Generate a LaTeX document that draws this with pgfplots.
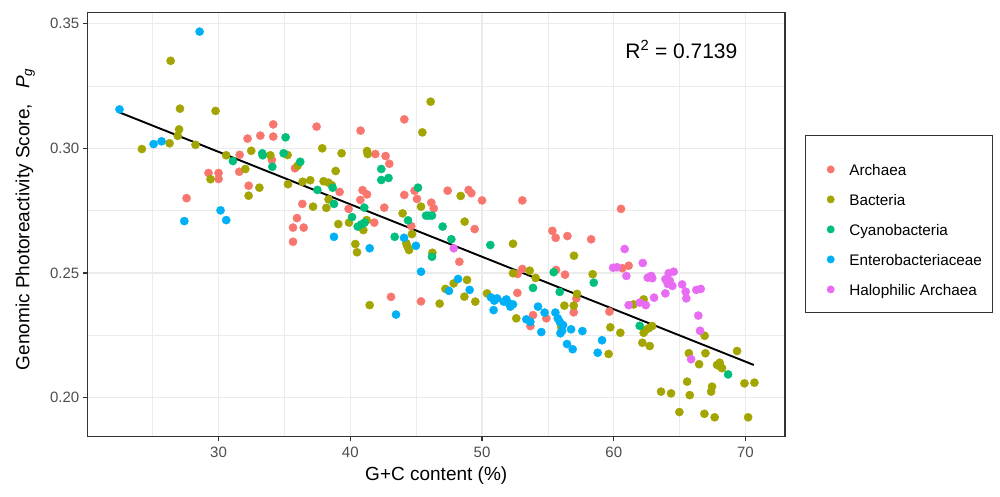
\documentclass[border=0pt]{standalone}
\usepackage{fontspec}
\setmainfont{Liberation Sans}
\usepackage{pgfplots}
\pgfplotsset{compat=1.18}
\usepackage{pgfplotstable}
\definecolor{arch}{HTML}{F8766D}
\definecolor{bact}{HTML}{A3A500}
\definecolor{cyano}{HTML}{00BF7D}
\definecolor{ent}{HTML}{00B0F6}
\definecolor{halo}{HTML}{E76BF3}
\definecolor{gridgray}{HTML}{EBEBEB}
\definecolor{frame}{HTML}{333333}
\definecolor{ticklab}{HTML}{4D4D4D}

\pgfplotstableread{
x y
34.15 0.3096
37.44 0.3087
32.20 0.3039
33.17 0.3051
34.15 0.3047
31.60 0.2974
34.05 0.2953
35.80 0.2920
29.24 0.2901
30.00 0.2901
30.00 0.2877
31.57 0.2906
32.28 0.2850
27.57 0.2800
36.36 0.2777
35.95 0.2720
35.65 0.2682
36.46 0.2682
44.10 0.3116
40.78 0.3071
41.90 0.2977
42.68 0.2969
42.96 0.2938
39.19 0.2825
40.93 0.2832
41.27 0.2815
40.76 0.2793
44.10 0.2813
44.88 0.2830
45.06 0.2797
46.15 0.2782
46.33 0.2759
47.39 0.2830
48.98 0.2833
49.19 0.2820
50.00 0.2791
39.87 0.2757
42.58 0.2762
41.82 0.2702
44.63 0.2688
49.44 0.2676
48.28 0.2545
53.06 0.2791
60.55 0.2757
55.34 0.2669
55.59 0.2641
56.48 0.2648
58.28 0.2635
53.06 0.2516
52.70 0.2496
55.62 0.2512
56.30 0.2493
60.65 0.2519
61.13 0.2529
52.68 0.2420
35.65 0.2625
43.09 0.2404
45.37 0.2386
57.16 0.2398
56.96 0.2342
53.87 0.2331
54.88 0.2318
53.67 0.2287
59.67 0.2345
}\archaea

\pgfplotstableread{
x y
26.36 0.3351
27.07 0.3159
29.77 0.3150
27.00 0.3076
26.90 0.3050
24.18 0.2997
26.28 0.3020
28.25 0.3014
30.58 0.2972
32.48 0.2990
33.93 0.2972
35.24 0.2973
36.00 0.2930
29.39 0.2876
32.03 0.2917
33.10 0.2842
32.28 0.2810
35.27 0.2856
36.38 0.2866
36.96 0.2872
37.17 0.2766
46.10 0.3187
45.47 0.3064
37.87 0.3000
39.34 0.2980
41.27 0.2989
41.32 0.2977
38.89 0.2909
37.97 0.2868
38.35 0.2862
38.60 0.2852
38.35 0.2795
45.37 0.2766
48.38 0.2809
38.18 0.2761
43.97 0.2739
41.24 0.2712
39.90 0.2702
39.09 0.2696
40.99 0.2672
48.68 0.2706
44.68 0.2656
44.25 0.2619
44.35 0.2605
44.46 0.2592
40.38 0.2616
40.51 0.2583
46.23 0.2581
48.86 0.2472
52.35 0.2617
56.98 0.2569
53.62 0.2509
52.35 0.2499
54.07 0.2480
58.40 0.2495
57.21 0.2416
62.27 0.2394
61.51 0.2374
66.90 0.2248
62.40 0.2271
62.65 0.2278
62.91 0.2287
62.27 0.2260
60.50 0.2260
41.47 0.2371
47.85 0.2458
47.22 0.2436
48.66 0.2405
49.49 0.2385
46.78 0.2377
50.38 0.2418
56.25 0.2369
56.96 0.2369
52.60 0.2318
56.00 0.2284
59.74 0.2282
59.61 0.2175
62.17 0.2220
62.73 0.2207
65.70 0.2178
66.96 0.2178
66.48 0.2134
69.36 0.2187
67.84 0.2131
68.04 0.2140
68.22 0.2118
68.10 0.2124
69.92 0.2057
70.68 0.2060
65.57 0.2064
63.59 0.2024
64.35 0.2017
65.77 0.2010
67.46 0.2044
67.39 0.2024
64.98 0.1942
66.88 0.1935
67.66 0.1921
70.20 0.1921
}\bacteria

\pgfplotstableread{
x y
31.09 0.2949
33.32 0.2980
33.35 0.2972
34.94 0.2980
35.09 0.3044
34.08 0.2926
36.20 0.2946
37.50 0.2833
42.35 0.2917
42.35 0.2873
42.90 0.2881
38.66 0.2842
45.14 0.2842
38.76 0.2777
41.06 0.2762
40.13 0.2724
40.56 0.2686
40.84 0.2695
41.09 0.2702
44.38 0.2711
45.75 0.2730
45.95 0.2730
46.20 0.2730
47.01 0.2686
43.37 0.2645
46.20 0.2565
47.67 0.2635
50.63 0.2612
55.44 0.2503
58.48 0.2461
53.87 0.2440
55.90 0.2424
61.97 0.2288
68.68 0.2093
}\cyano

\pgfplotstableread{
x y
28.56 0.3468
22.48 0.3156
25.07 0.3017
25.67 0.3028
30.15 0.2751
30.58 0.2712
27.40 0.2708
38.76 0.2645
44.08 0.2641
44.98 0.2609
41.47 0.2599
45.37 0.2505
48.18 0.2476
43.47 0.2333
47.49 0.2428
49.06 0.2432
50.68 0.2402
50.93 0.2389
51.14 0.2398
51.64 0.2385
51.85 0.2394
52.03 0.2378
52.15 0.2365
52.35 0.2374
50.88 0.2351
54.25 0.2365
54.75 0.2341
53.36 0.2314
53.67 0.2304
54.50 0.2263
55.57 0.2341
55.75 0.2318
55.90 0.2304
56.15 0.2291
56.08 0.2268
55.95 0.2258
56.76 0.2274
57.62 0.2267
56.45 0.2215
56.88 0.2194
59.11 0.2230
58.78 0.2180
}\entero

\pgfplotstableread{
x y
47.85 0.2599
60.83 0.2596
59.95 0.2521
60.25 0.2523
60.96 0.2488
62.20 0.2540
62.58 0.2481
62.84 0.2488
62.92 0.2479
63.92 0.2475
64.17 0.2499
64.55 0.2505
64.25 0.2469
64.10 0.2456
64.45 0.2448
65.19 0.2454
65.46 0.2425
65.51 0.2398
66.27 0.2432
66.60 0.2436
63.92 0.2418
63.06 0.2401
61.97 0.2381
62.43 0.2371
61.13 0.2371
66.42 0.2329
66.55 0.2268
65.87 0.2154
}\halo

\begin{document}
\begin{tikzpicture}
\path[use as bounding box] (0,0) rectangle (1000pt,497pt);
\begin{axis}[
  at={(87.5pt,60.3pt)}, anchor=south west,
  scale only axis, width=697.5pt, height=424.5pt,
  xmin=20.05, xmax=73.0, ymin=0.18432, ymax=0.3546,
  xtick={30,40,50,60,70},
  ytick={0.20,0.25,0.30,0.35},
  minor xtick={25,35,45,55,65},
  minor ytick={0.225,0.275,0.325},
  grid=both,
  major grid style={color=gridgray, line width=1.3pt},
  minor grid style={color=gridgray, line width=0.65pt},
  tick align=outside,
  major tick length=4.5pt, minor tick length=0pt,
  xtick pos=bottom, ytick pos=left,
  tick style={color=frame, line width=1.1pt},
  axis line style={color=frame, line width=1.1pt},
  scaled y ticks=false,
  /pgf/number format/assume math mode=true,
  ticklabel style={font=\fontsize{15}{17}\selectfont, text=ticklab, inner sep=0pt},
  xticklabel style={anchor=north, yshift=-5.5pt},
  yticklabel style={anchor=east, xshift=-3.5pt, /pgf/number format/fixed, /pgf/number format/fixed zerofill, /pgf/number format/precision=2},
  every axis x label/.style={at={(axis description cs:0.5,-0.102)}, anchor=base, font=\fontsize{19}{22}\selectfont, inner sep=0pt},
  every axis y label/.style={at={(axis description cs:-0.0832,0.5124)}, rotate=90, anchor=base, font=\fontsize{19}{22}\selectfont, inner sep=0pt},
  xlabel={G+C content (\%)},
  ylabel={Genomic Photoreactivity Score,\hspace{15pt}\textit{P}\textsubscript{\textit{g}}},
  legend style={at={(1.0602,0.6518)}, anchor=north west, draw=none, fill=none,
    inner sep=0pt, outer sep=0pt, row sep=0pt, column sep=14.9pt,
    font=\fontsize{15.3}{18}\selectfont,
    nodes={inner sep=0pt, text height=15pt, text depth=15pt}},
  legend cell align=left,
  legend image code/.code={\draw[#1, mark size=3.7pt] plot coordinates {(0pt,5.6pt)};},
]
\addplot[only marks, color=arch, mark=*, mark size=4.1pt, mark options={draw=none, fill=arch}] table {\archaea};
\addlegendentry{Archaea}
\addplot[only marks, color=bact, mark=*, mark size=4.1pt, mark options={draw=none, fill=bact}] table {\bacteria};
\addlegendentry{Bacteria}
\addplot[only marks, color=cyano, mark=*, mark size=4.1pt, mark options={draw=none, fill=cyano}] table {\cyano};
\addlegendentry{Cyanobacteria}
\addplot[only marks, color=ent, mark=*, mark size=4.1pt, mark options={draw=none, fill=ent}] table {\entero};
\addlegendentry{Enterobacteriaceae}
\addplot[only marks, color=halo, mark=*, mark size=4.1pt, mark options={draw=none, fill=halo}] table {\halo};
\addlegendentry{Halophilic Archaea}
\addplot[black, line width=1.9pt, forget plot] coordinates {(22.48,0.3144) (70.63,0.2131)};
\node[anchor=base, font=\fontsize{21}{24}\selectfont, inner sep=0pt] at (axis cs:65.13,0.3361) {R\textsuperscript{2} = 0.7139};
\end{axis}
\draw[frame, line width=0.9pt] (805pt,184.3pt) rectangle (992.3pt,362pt);
\end{tikzpicture}
\end{document}
